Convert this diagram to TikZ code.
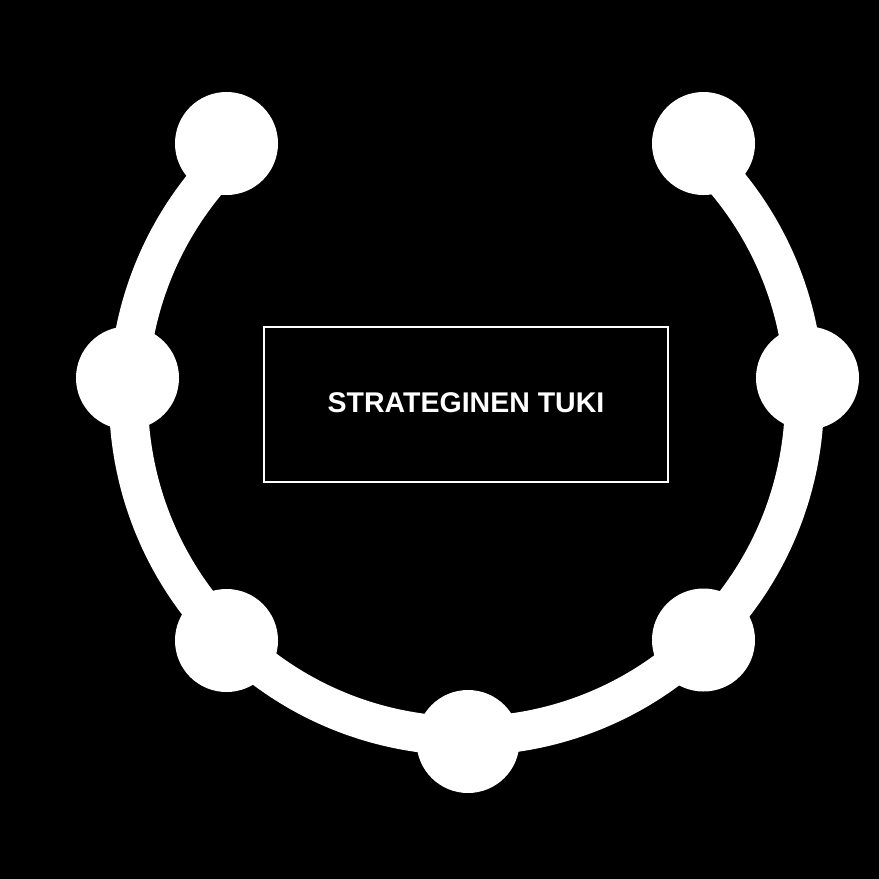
\documentclass[tikz,border=0pt]{standalone}
\usepackage{fontspec}
\setmainfont{Liberation Sans}
\begin{document}
\begin{tikzpicture}[x=1pt,y=-1pt,
  dot/.style={circle,fill=white,draw=none,minimum size=103pt,inner sep=0pt},
  ring/.style={draw=white,line width=39pt},
  titlebox/.style={draw=white,line width=1.6pt,minimum width=404pt,minimum height=155pt,inner sep=0pt},
  titletext/.style={text=white,font=\fontsize{28.5}{32}\selectfont\bfseries,inner sep=0pt}]
\fill[black] (0,0) rectangle (879,879);
\useasboundingbox (0,0) rectangle (879,879);
\coordinate (c) at (466.5,398);
\draw[ring] ([shift={(c)}]-46.7:338) arc[start angle=-46.7,end angle=226.7,radius=338];
\node[dot] (tl) at (226.5,143.5) {};
\node[dot] (tr) at (703.5,143.5) {};
\node[dot] (l) at (127.5,378) {};
\node[dot] (r) at (807.5,378) {};
\node[dot] (bl) at (226.5,640.5) {};
\node[dot] (br) at (703.5,640) {};
\node[dot] (b) at (468,741.5) {};
\node[titlebox] (box) at (466,404.5) {};
\node[titletext,anchor=base] (title) at (466,412) {STRATEGINEN TUKI};
\end{tikzpicture}
\end{document}
